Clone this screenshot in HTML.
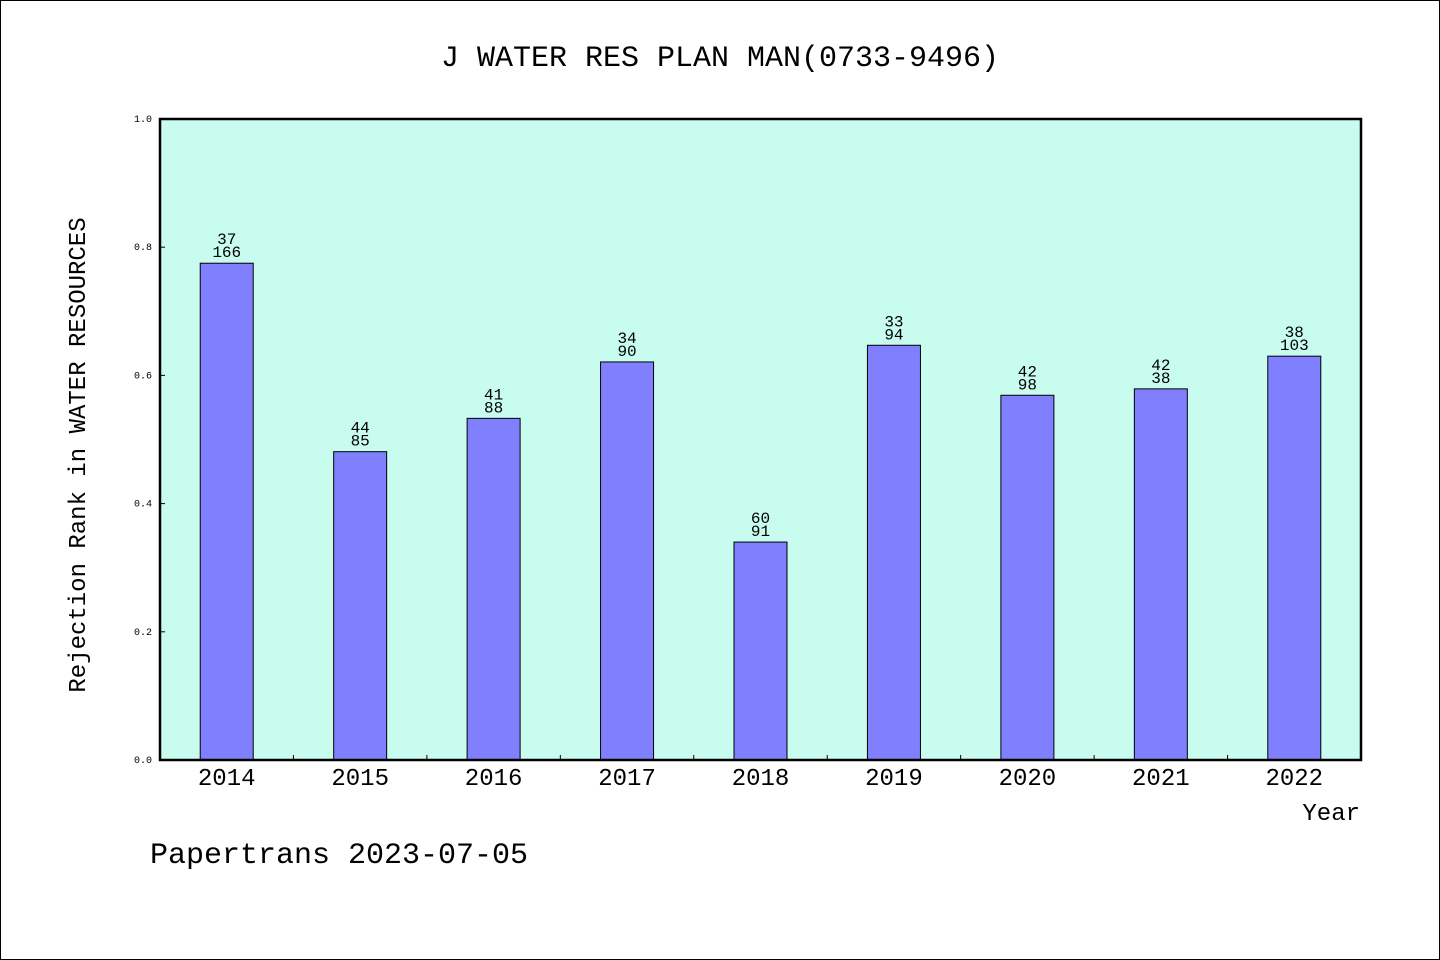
<!DOCTYPE html>
<html><head><meta charset="utf-8"><style>
html,body{margin:0;padding:0;background:#fff}
svg{display:block}
text{font-family:"Liberation Mono","WenQuanYi Zen Hei",monospace;fill:#000}
</style></head><body>
<svg width="1440" height="960">
<rect x="0.5" y="0.5" width="1439" height="959" fill="#fff" stroke="#000"/>
<text x="720" y="66" text-anchor="middle" font-size="30">J WATER RES PLAN MAN(0733-9496)</text>
<rect x="160" y="119" width="1201" height="641" fill="#c8fcee"/>
<g id="bars"></g>
<rect x="160" y="119" width="1201" height="641" fill="none" stroke="#000" stroke-width="2.5"/>
<text transform="translate(85,455) rotate(-90)" text-anchor="middle" font-size="24">Rejection Rank in WATER RESOURCES</text>
<text x="1360" y="820" text-anchor="end" font-size="24">Year</text>
<text x="150" y="863" font-size="30">Papertrans 2023-07-05</text>
</svg>
<script>
const categories=["2014","2015","2016","2017","2018","2019","2020","2021","2022"];
const values=[0.775,0.481,0.533,0.621,0.340,0.647,0.569,0.579,0.630];
const ranks=["37","44","41","34","60","33","42","42","38"];
const totals=["166","85","88","90","91","94","98","38","103"];
const yTicks=[0,0.2,0.4,0.6,0.8,1.0];
const yTickLabels=["0.0","0.2","0.4","0.6","0.8","1.0"];

const NS="http://www.w3.org/2000/svg";
const X0=160,X1=1361,Y0=760,Y1=119;
const bw=(X1-X0)/categories.length;
const y=v=>Y0-(v)*(Y0-Y1);
const xc=i=>X0+bw*(i+0.5);
const g=document.getElementById('bars');
function mk(tag,attrs){const e=document.createElementNS(NS,tag);for(const k in attrs)e.setAttribute(k,attrs[k]);g.appendChild(e);return e;}
categories.forEach((c,i)=>{
  const top=y(values[i]);
  const r=mk('rect',{x:xc(i)-26.5,y:top,width:53,height:Y0-top,fill:'#8080ff',stroke:'#000','stroke-width':1});
  
  
  const t1=mk('text',{x:xc(i),y:top-19,'text-anchor':'middle','font-size':16});
  t1.textContent=ranks[i];
  
  
  const t2=mk('text',{x:xc(i),y:top-6,'text-anchor':'middle','font-size':16});
  t2.textContent=totals[i];
  
  
  const xl=mk('text',{x:xc(i),y:785,'text-anchor':'middle','font-size':24});
  xl.textContent=c;
  
  
  if(i>0){
    const tk=mk('line',{x1:X0+bw*i,x2:X0+bw*i,y1:Y0,y2:Y0-5,stroke:'#000','stroke-width':1});
    
    
  }
});
yTicks.forEach((v,i)=>{
  const tk=mk('line',{x1:X0,x2:X0+5,y1:y(v),y2:y(v),stroke:'#000','stroke-width':1});
  
  
  const tl=mk('text',{x:152,y:y(v)+3,'text-anchor':'end','font-size':10});
  tl.textContent=yTickLabels[i];
  
  
});
</script>
</body></html>
